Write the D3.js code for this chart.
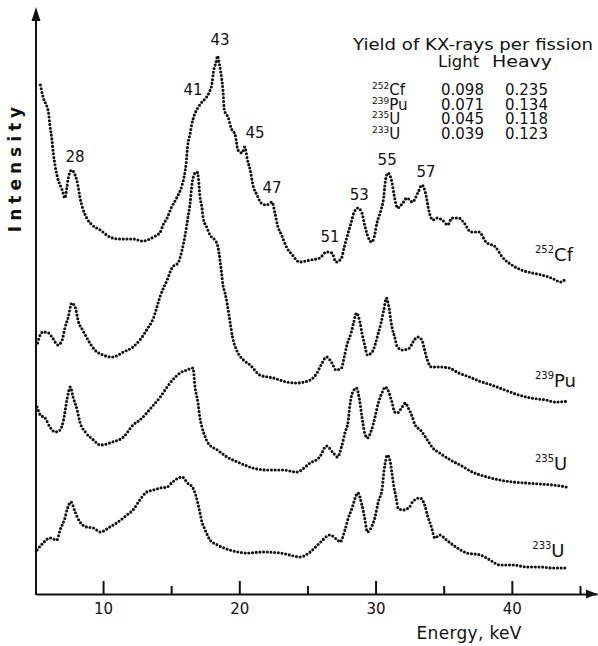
<!DOCTYPE html>
<meta charset="utf-8">
<style>
body { margin: 0; background: #fff; }
text { font-family: "DejaVu Sans", "Liberation Sans", sans-serif; fill: #111; }
.spec { fill: none; stroke: #111; stroke-width: 3.1px; stroke-linecap: round; stroke-dasharray: 0 3.7; }
.axis path, .axis line { stroke: #111; stroke-width: 2px; }
</style>
<svg width="598" height="646"></svg>
<script src="https://d3js.org/d3.v7.min.js"></script>
<script>
// spectra: [energy keV, intensity (arb. units)]
var cf252 = [[5.4,509],[5.6,497],[6.0,481],[6.1,469],[6.25,454],[6.35,441],[6.5,427],[6.65,417],[7.0,404],[7.2,396],
  [7.35,407],[7.45,416],[7.7,424],[7.95,419],[8.15,409],[8.3,397],[8.5,386],[8.8,376],[9.2,369],[9.8,364],
  [10.5,357],[11.2,355],[12.2,355],[12.9,353],[13.7,357],[14.2,362],[14.4,369],[14.7,376],[15.0,386],[15.4,396],
  [15.8,409],[16.0,421],[16.1,431],[16.2,447],[16.4,461],[16.5,469],[16.7,479],[16.95,486],[17.2,491],[17.6,497],
  [17.8,502],[18.0,511],[18.1,522],[18.3,532],[18.4,538],[18.55,529],[18.7,516],[18.8,504],[18.9,484],[19.2,476],
  [19.4,466],[19.7,459],[19.9,444],[20.2,441],[20.4,447],[20.6,434],[20.8,424],[21.0,409],[21.3,399],[21.6,391],
  [22.0,389],[22.4,392],[22.6,382],[22.8,369],[23.1,359],[23.5,346],[23.9,339],[24.4,332],[25.2,334],[25.9,336],
  [26.4,342],[26.8,341],[27.1,332],[27.5,336],[27.7,347],[27.9,357],[28.2,371],[28.4,381],[28.7,386],[29.0,381],
  [29.2,369],[29.4,359],[29.7,352],[29.9,357],[30.1,371],[30.4,384],[30.6,397],[30.7,411],[30.9,421],[31.2,412],
  [31.4,396],[31.6,386],[32.0,391],[32.3,396],[32.7,392],[33.1,401],[33.4,409],[33.7,399],[33.9,384],[34.2,374],
  [34.5,376],[34.9,374],[35.3,369],[35.6,376],[36.1,376],[36.5,371],[37.0,362],[37.6,362],[38.1,352],[38.8,347],
  [39.3,337],[40.0,329],[40.7,324],[41.5,321],[42.2,319],[42.9,316],[43.6,312],[44.0,316]];

var pu239 = [[5.2,251],[5.3,256],[5.6,262],[6.0,261],[6.3,256],[6.7,249],[7.0,254],[7.2,266],[7.45,277],[7.7,291],
  [7.95,287],[8.2,272],[8.5,264],[8.9,254],[9.4,244],[10.0,239],[10.7,237],[11.5,242],[12.2,247],[12.7,254],
  [13.2,264],[13.7,276],[14.2,298],[14.7,314],[15.1,327],[15.5,331],[15.8,344],[16.0,357],[16.2,374],[16.4,392],
  [16.5,407],[16.75,421],[16.9,422],[17.0,416],[17.1,399],[17.25,387],[17.35,376],[17.6,367],[17.85,359],[18.2,354],
  [18.4,349],[18.6,332],[18.7,321],[18.8,309],[18.95,301],[19.1,291],[19.3,274],[19.5,257],[19.8,244],[20.3,234],
  [20.8,229],[21.5,219],[22.5,216],[23.5,212],[24.2,211],[25.2,214],[25.7,221],[26.0,229],[26.4,237],[26.8,231],
  [27.1,224],[27.5,226],[27.7,237],[27.9,249],[28.2,261],[28.4,272],[28.6,281],[28.85,272],[29.0,261],[29.2,249],
  [29.4,239],[29.75,242],[30.0,251],[30.2,261],[30.4,271],[30.6,284],[30.8,296],[30.95,289],[31.2,267],[31.4,257],
  [31.6,247],[32.0,244],[32.5,246],[32.7,251],[33.1,257],[33.4,254],[33.6,244],[33.8,234],[34.1,227],[34.7,227],
  [35.4,226],[36.1,221],[36.9,217],[37.6,213],[38.5,209],[39.5,204],[40.5,199],[41.4,196],[42.5,194],[43.2,192],
  [44.2,193]];

var u235 = [[5.16,187],[5.4,179],[5.75,176],[6.1,167],[6.5,162],[6.85,164],[7.1,174],[7.35,194],[7.6,207],[7.8,197],
  [8.1,184],[8.3,172],[8.7,162],[9.3,154],[9.8,149],[10.7,152],[11.5,157],[12.2,169],[12.7,174],[13.2,181],
  [13.7,189],[14.2,197],[14.7,207],[15.1,214],[15.65,221],[16.15,224],[16.6,226],[16.75,207],[16.97,191],[17.1,177],
  [17.26,167],[17.5,157],[17.7,151],[18.4,144],[19.1,137],[20.05,131],[21.0,126],[22.0,124],[23.2,124],[24.2,122],
  [25.2,131],[25.9,137],[26.4,148],[26.9,141],[27.2,137],[27.5,147],[27.75,161],[28.0,174],[28.1,187],[28.3,201],
  [28.6,206],[28.8,196],[29.0,177],[29.2,161],[29.4,156],[29.7,164],[29.96,177],[30.2,191],[30.5,202],[30.7,207],
  [30.9,204],[31.2,192],[31.4,182],[31.6,181],[31.9,186],[32.2,191],[32.4,186],[32.7,177],[32.9,169],[33.3,164],
  [33.8,154],[34.2,146],[34.7,141],[35.5,134],[36.2,129],[37.1,122],[38.2,117],[39.1,114],[40.1,112],[41.1,111],
  [42.1,110],[43.0,109],[44.0,107]];

var u233 = [[5.16,44],[5.6,51],[6.1,56],[6.6,54],[6.85,64],[7.2,76],[7.4,86],[7.65,92],[7.95,82],[8.3,72],
  [8.8,67],[9.3,66],[9.8,62],[10.5,67],[11.1,72],[11.75,79],[12.2,84],[12.7,94],[13.2,102],[13.7,104],
  [14.2,106],[14.7,107],[15.1,112],[15.8,117],[16.2,111],[16.6,106],[16.9,94],[17.1,82],[17.26,72],[17.5,64],
  [17.85,54],[18.4,49],[19.3,44],[20.6,41],[21.7,42],[23.0,41],[23.7,39],[24.45,37],[25.2,42],[25.9,51],
  [26.65,59],[27.2,54],[27.4,52],[27.75,64],[28.0,76],[28.3,87],[28.5,96],[28.7,101],[29.0,89],[29.2,76],
  [29.4,62],[29.7,67],[29.96,77],[30.2,92],[30.5,107],[30.6,121],[30.75,134],[30.85,139],[31.05,134],[31.2,121],
  [31.35,107],[31.5,97],[31.65,86],[32.0,84],[32.5,87],[32.7,92],[33.25,96],[33.6,89],[33.8,79],[34.1,67],
  [34.35,56],[34.7,59],[35.2,54],[36.0,46],[36.7,41],[37.7,39],[38.4,34],[39.1,29],[40.1,29],[41.1,27],
  [42.1,27],[43.0,26],[44.0,26]];

var spectra = [cf252, pu239, u235, u233];

// nuclide names for the curve labels and the yield table
var massNumbers = ["252", "239", "235", "233"];
var symbols = ["Cf", "Pu", "U", "U"];
var yieldLight = [0.098, 0.071, 0.045, 0.039];
var yieldHeavy = [0.235, 0.134, 0.118, 0.123];

// Z of the K X-ray peaks marked on the Cf curve, with label anchor [keV, intensity]
var peakZ = ["28", "41", "43", "45", "47", "51", "53", "55", "57"];
var peakAt = [[7.95,437],[16.6,504],[18.58,554],[21.15,461],[22.4,406],[26.65,357],[28.8,399],[30.85,434],[33.7,422]];

// curve label anchors [keV, intensity]
var curveLabelAt = [[41.7,333],[41.7,207],[41.7,124],[41.5,37]];

var majorTicks = [10, 20, 30, 40];
var minorTicks = [15, 25, 35, 45];

var svg = d3.select("svg");

var x = d3.scaleLinear().domain([5.08, 46.25]).range([36, 597]);
var y = d3.scaleLinear().domain([0, 587]).range([594, 7]);

// x axis, ticks pointing up
svg.append("g")
    .attr("class", "axis")
    .attr("transform", "translate(0," + y(0) + ")")
    .call(d3.axisBottom(x).tickValues(majorTicks).tickSizeInner(-13).tickSizeOuter(0).tickPadding(9))
    .call(function(g) {
      g.selectAll("text").attr("font-size", 15).attr("fill", "#111")
        .style("font-family", null);
      g.selectAll(".tick line").attr("stroke-width", 1.8);
    });

svg.append("g")
    .attr("class", "axis")
    .attr("transform", "translate(0," + y(0) + ")")
    .call(d3.axisBottom(x).tickValues(minorTicks).tickSizeInner(-8).tickSizeOuter(0).tickFormat(""))
    .call(function(g) {
      g.select(".domain").remove();
      g.selectAll(".tick line").attr("stroke-width", 1.6);
    });

// arrow heads
svg.append("path")
    .attr("d", "M" + x(46.25) + "," + y(0) + "l-11,-4.5l0,9z")
    .attr("fill", "#111");

svg.append("line")
    .attr("x1", x(5.08)).attr("x2", x(5.08))
    .attr("y1", y(0) + 1).attr("y2", y(580))
    .attr("stroke", "#111").attr("stroke-width", 2);

svg.append("path")
    .attr("d", "M" + x(5.08) + "," + y(587) + "l-4.5,14l9,0z")
    .attr("fill", "#111");

svg.append("text")
    .attr("x", x(33.0))
    .attr("y", 639)
    .attr("font-size", 17)
    .attr("textLength", 105)
    .text("Energy, keV");

svg.append("text")
    .attr("transform", "translate(21,167) rotate(-90)")
    .attr("text-anchor", "middle")
    .attr("font-size", 17)
    .attr("font-weight", "bold")
    .attr("letter-spacing", 5)
    .text("Intensity");

// dotted spectra
var line = d3.line()
    .x(function(d) { return x(d[0]); })
    .y(function(d) { return y(d[1]); })
    .curve(d3.curveMonotoneX);

svg.selectAll(".spec")
    .data(spectra)
    .enter().append("path")
    .attr("class", "spec")
    .attr("d", line);

// peak labels
svg.selectAll(".peak")
    .data(peakZ)
    .enter().append("text")
    .attr("class", "peak")
    .attr("x", function(d, i) { return x(peakAt[i][0]); })
    .attr("y", function(d, i) { return y(peakAt[i][1]); })
    .attr("dy", "0.36em")
    .attr("text-anchor", "middle")
    .attr("font-size", 15)
    .text(function(d) { return d; });

// curve labels
var cl = svg.selectAll(".clabel")
    .data(symbols)
    .enter().append("text")
    .attr("class", "clabel")
    .attr("x", function(d, i) { return x(curveLabelAt[i][0]); })
    .attr("y", function(d, i) { return y(curveLabelAt[i][1]); });
cl.append("tspan")
    .attr("font-size", 10)
    .attr("dy", -8)
    .text(function(d, i) { return massNumbers[i]; });
cl.append("tspan")
    .attr("font-size", 18)
    .attr("dy", 8)
    .text(function(d) { return d; });

// yield table
var tbl = svg.append("g");
tbl.append("text").attr("x", 353).attr("y", 50).attr("font-size", 16.5)
    .attr("textLength", 240).attr("lengthAdjust", "spacingAndGlyphs")
    .text("Yield of KX-rays per fission");
tbl.append("text").attr("x", 438).attr("y", 67).attr("font-size", 16.5).text("Light");
tbl.append("text").attr("x", 492).attr("y", 67).attr("font-size", 16.5)
    .attr("textLength", 60).attr("lengthAdjust", "spacingAndGlyphs").text("Heavy");

var fmt = d3.format(".3f");
var rows = tbl.selectAll(".row")
    .data(symbols)
    .enter().append("g")
    .attr("class", "row")
    .attr("transform", function(d, i) { return "translate(0," + (95 + i * 14.7) + ")"; });

var nm = rows.append("text").attr("x", 372);
nm.append("tspan").attr("font-size", 9).attr("dy", -6).text(function(d, i) { return massNumbers[i]; });
nm.append("tspan").attr("font-size", 15).attr("dy", 6).text(function(d) { return d; });

rows.append("text").attr("x", 441).attr("font-size", 15)
    .text(function(d, i) { return fmt(yieldLight[i]); });
rows.append("text").attr("x", 505).attr("font-size", 15)
    .text(function(d, i) { return fmt(yieldHeavy[i]); });
</script>
